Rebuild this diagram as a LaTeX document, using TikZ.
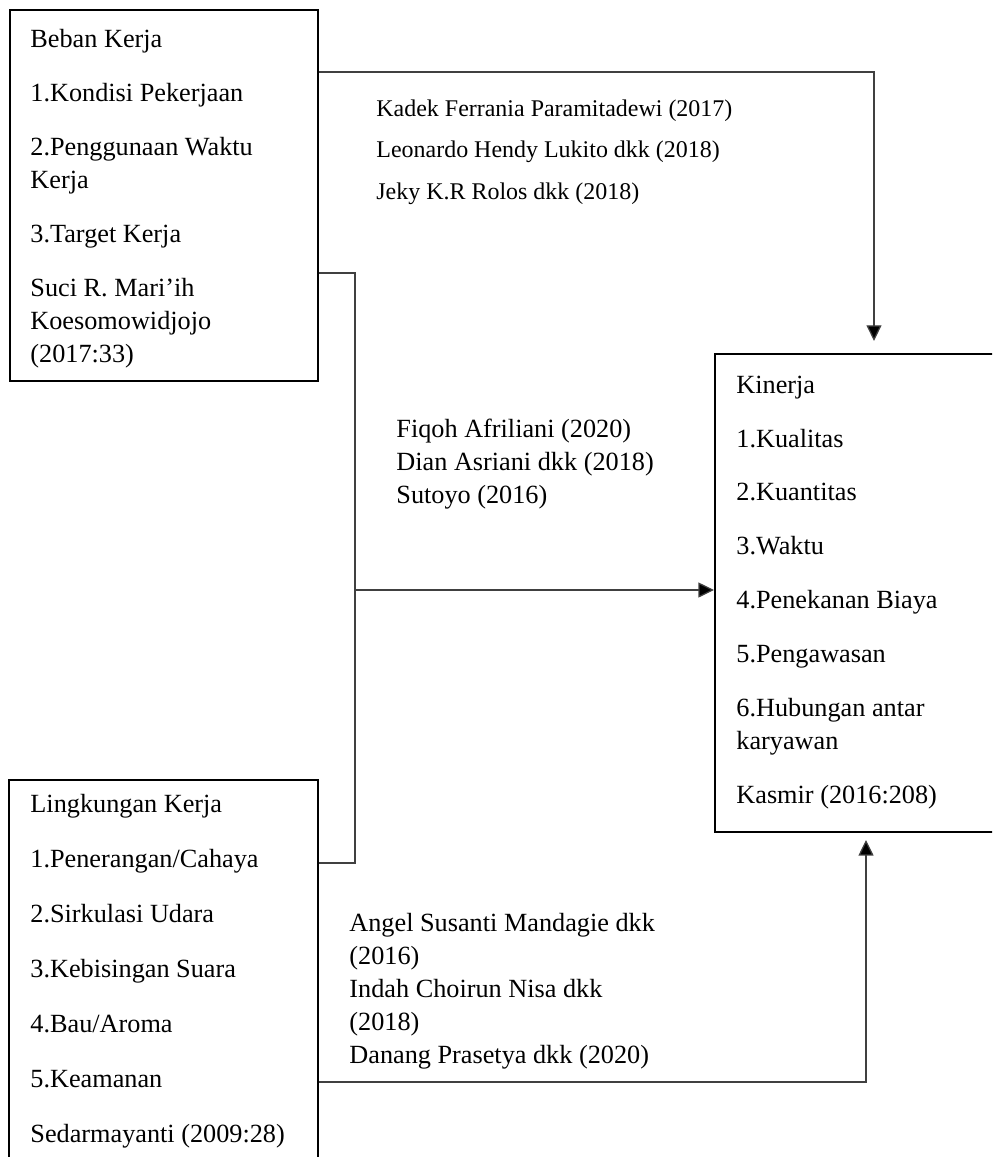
\documentclass[tikz,border=0pt]{standalone}
\usepackage{fontspec}
\setmainfont{Liberation Serif}
\usetikzlibrary{arrows.meta}
\tikzset{
  kotak/.style={draw=black,line width=0.95pt,inner sep=0pt,anchor=north west},
  isi/.style={anchor=base west,align=left,inner sep=0pt,font=\fontsize{12.6}{15.84}\selectfont},
  sumber/.style={anchor=base west,align=left,inner sep=0pt,font=\fontsize{11.5}{19.7}\selectfont},
  garis/.style={draw=black!75,line width=0.6pt},
  panah/.style={garis,-{Triangle[length=7.5pt,width=7.2pt,fill=black]}},
}
\begin{document}
\begin{tikzpicture}[x=0.48pt,y=-0.48pt]
    \clip (0,0) rectangle (992,1157);
    \coordinate (atasbelok) at (874,72);
    \coordinate (cabangatas) at (355,273);
    \coordinate (cabangbawah) at (355,863);
    \coordinate (cabangtengah) at (355,590);
    \coordinate (bawahbelok) at (866,1082);

    % kotak variabel
    \node [kotak,minimum width=147.8pt,minimum height=178.1pt] (beban) at (9,9) {};
    \node [kotak,minimum width=148.3pt,minimum height=183.8pt] (lingkungan) at (8,779) {};
    \node [kotak,minimum width=140pt,minimum height=229.4pt] (kinerja) at (714,353) {};

    % isi kotak (titik = baris terakhir)
    \node [isi] (bebanisi) at (30,362) {Beban Kerja\\[10pt]1.Kondisi Pekerjaan\\[10pt]2.Penggunaan Waktu\\Kerja\\[10pt]3.Target Kerja\\[10pt]Suci R. Mari’ih\\Koesomowidjojo\\(2017:33)};
    \node [isi] (lingkunganisi) at (30,1142) {Lingkungan Kerja\\[10.5pt]1.Penerangan/Cahaya\\[10.5pt]2.Sirkulasi Udara\\[10.5pt]3.Kebisingan Suara\\[10.5pt]4.Bau/Aroma\\[10.5pt]5.Keamanan\\[10.5pt]Sedarmayanti (2009:28)};
    \node [isi] (kinerjaisi) at (736,803) {Kinerja\\[10pt]1.Kualitas\\[10pt]2.Kuantitas\\[10pt]3.Waktu\\[10pt]4.Penekanan Biaya\\[10pt]5.Pengawasan\\[10pt]6.Hubungan antar\\karyawan\\[10pt]Kasmir (2016:208)};

    % sumber penelitian
    \node [sumber] (refatas) at (376,199) {Kadek Ferrania Paramitadewi (2017)\\Leonardo Hendy Lukito dkk (2018)\\Jeky K.R Rolos dkk (2018)};
    \node [isi] (reftengah) at (396,503) {Fiqoh Afriliani (2020)\\Dian Asriani dkk (2018)\\Sutoyo (2016)};
    \node [isi] (refbawah) at (349,1063) {Angel Susanti Mandagie dkk\\(2016)\\Indah Choirun Nisa dkk\\(2018)\\Danang Prasetya dkk (2020)};

    % garis hubungan
    \draw [panah,shorten >=5.8pt] (beban.east |- atasbelok) -- (atasbelok) -- (atasbelok |- kinerja.north);
    \draw [garis] (beban.east |- cabangatas) -- (cabangatas) -- (cabangbawah) -- (lingkungan.east |- cabangbawah);
    \draw [panah] (cabangtengah) -- (kinerja.west |- cabangtengah);
    \draw [panah,shorten >=3.4pt] (lingkungan.east |- bawahbelok) -- (bawahbelok) -- (bawahbelok |- kinerja.south);
\end{tikzpicture}
\end{document}
